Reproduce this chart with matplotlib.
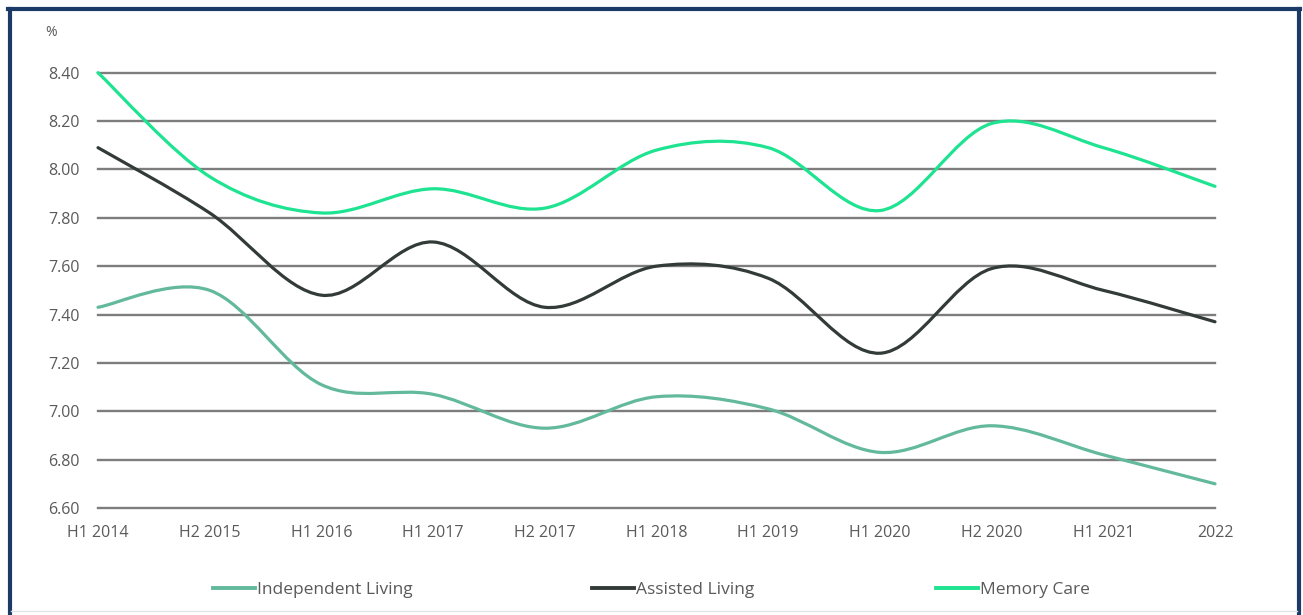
import numpy as np
import matplotlib
matplotlib.use('Agg')
import matplotlib.pyplot as plt
from matplotlib.path import Path
from matplotlib.patches import PathPatch
from matplotlib.lines import Line2D

# ── Data ──────────────────────────────────────────────────────────────────────

periods = ['H1 2014', 'H2 2015', 'H1 2016', 'H1 2017', 'H2 2017', 'H1 2018',
           'H1 2019', 'H1 2020', 'H2 2020', 'H1 2021', '2022']
independent_living = [7.43, 7.50, 7.11, 7.07, 6.93, 7.06, 7.01, 6.83, 6.94, 6.82, 6.70]
assisted_living    = [8.09, 7.82, 7.48, 7.70, 7.43, 7.60, 7.55, 7.24, 7.59, 7.50, 7.37]
memory_care        = [8.40, 7.97, 7.82, 7.92, 7.84, 8.08, 8.09, 7.83, 8.19, 8.09, 7.93]
y_ticks = [6.60, 6.80, 7.00, 7.20, 7.40, 7.60, 7.80, 8.00, 8.20, 8.40]
series_names = ['Independent Living', 'Assisted Living', 'Memory Care']

C_IND = '#63b99c'
C_AST = '#333b39'
C_MEM = '#1ee390'
TXT   = '#5a5a5a'
FONT  = 'Open Sans'


def smooth_path(xs, ys):
    # cubic bezier through every point, Excel-style smoothed line
    P = np.column_stack([xs, ys]).astype(float)
    Pp = np.vstack([P[0], P, P[-1]])
    verts = [tuple(P[0])]
    codes = [Path.MOVETO]
    for i in range(len(P) - 1):
        p0, p1, p2, p3 = Pp[i], Pp[i + 1], Pp[i + 2], Pp[i + 3]
        c1 = p1 + (p2 - p0) / 6.0
        c2 = p2 - (p3 - p1) / 6.0
        verts += [tuple(c1), tuple(c2), tuple(p2)]
        codes += [Path.CURVE4] * 3
    return Path(verts, codes)


# ── Figure ────────────────────────────────────────────────────────────────────

W, H = 1303, 615
fig = plt.figure(figsize=(W / 100, H / 100), dpi=100)
fig.patch.set_facecolor('white')

ax = fig.add_axes([98 / W, 1 - 508 / H, (1215 - 98) / W, (508 - 72.7) / H])
x = np.arange(len(periods))
ax.set_xlim(0, len(periods) - 1)
ax.set_ylim(6.6, 8.4)

for v in y_ticks:
    ax.axhline(v, color='#7d7d7d', lw=1.7, zorder=1, clip_on=False)

colors = [C_IND, C_AST, C_MEM]
for ys, c in zip([independent_living, assisted_living, memory_care], colors):
    patch = PathPatch(smooth_path(x, ys), facecolor='none', edgecolor=c,
                      lw=2.3, zorder=3, clip_on=False, capstyle='round')
    ax.add_patch(patch)

for s in ax.spines.values():
    s.set_visible(False)
ax.set_yticks(y_ticks)
ax.set_yticklabels([f'{v:.2f}' for v in y_ticks])
ax.set_xticks(x)
ax.set_xticklabels(periods)
ax.tick_params(length=0, colors=TXT, labelsize=11.5)
ax.tick_params(axis='y', pad=13)
ax.tick_params(axis='x', pad=12)
for lab in ax.get_xticklabels() + ax.get_yticklabels():
    lab.set_family(FONT)

fig.text(45 / W, 1 - 33 / H, '%', color=TXT, fontsize=10, family=FONT,
         ha='left', va='center')

# legend: one entry per box so the spacing follows the reference
leg_x = [213, 592, 936]
for name, c, lx in zip(series_names, colors, leg_x):
    leg = fig.legend([Line2D([], [], color=c, lw=2.8)], [name],
                     loc='center left', bbox_to_anchor=(lx / W, 1 - 590 / H),
                     frameon=False, borderpad=0, borderaxespad=0,
                     handlelength=2.4, handletextpad=0.12,
                     prop={'family': FONT, 'size': 12.5})
    for t in leg.get_texts():
        t.set_color(TXT)

# outer frame
navy = '#1c3a66'
fig.add_artist(Line2D([9.5 / W, 9.5 / W], [0, 1 - 9 / H], color=navy, lw=3))
fig.add_artist(Line2D([1298.5 / W, 1298.5 / W], [0, 1 - 9 / H], color=navy, lw=3))
fig.add_artist(Line2D([8 / W, 1300 / W], [1 - 9 / H, 1 - 9 / H], color=navy, lw=3))
fig.add_artist(Line2D([11 / W, 1297 / W], [1 - 611 / H, 1 - 611 / H], color='#e3e3e3', lw=1))

fig.savefig('out.png', dpi=100)
